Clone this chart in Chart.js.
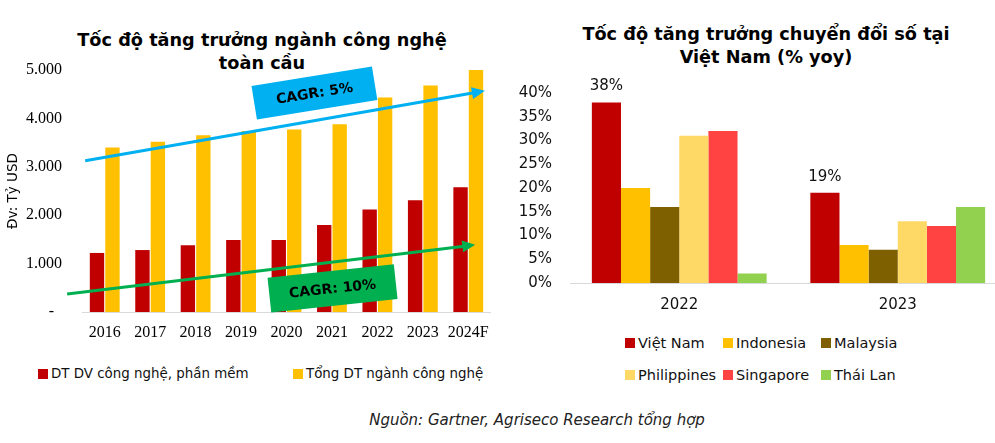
<!DOCTYPE html>
<html lang="vi">
<head>
<meta charset="utf-8">
<title>Tốc độ tăng trưởng ngành công nghệ</title>
<script src="https://cdn.jsdelivr.net/npm/chart.js@4.4.1/dist/chart.umd.min.js"></script>
<style>
    html, body { margin: 0; padding: 0; background: #fff; }
    body {
        position: relative; width: 995px; height: 443px; overflow: hidden;
        font-family: "DejaVu Sans", sans-serif; color: #000;
    }
    .chart-box { position: absolute; top: 0; }
    .title {
        position: absolute; font-weight: bold; font-size: 17.7px; line-height: 23px;
        text-align: center; white-space: nowrap; transform: translateX(-50%);
    }
    .legend-item {
        position: absolute; display: flex; align-items: center; white-space: nowrap; color: #111;
    }
    .legend-item span.swatch { display: inline-block; width: 10px; height: 10px; margin-right: 3px; }
    .source {
        position: absolute; left: 537px; top: 411px; transform: translateX(-50%);
        font-style: italic; font-size: 15px; color: #222; white-space: nowrap;
    }
</style>
</head>
<body>

<!-- Left: global tech industry -->
<div class="title" style="left:262px; top:29px;">Tốc độ tăng trưởng ngành công nghệ<br>toàn cầu</div>
<div class="chart-box" style="left:0; width:500px; height:345px;">
    <canvas id="global-chart"></canvas>
</div>
<div id="global-legend"></div>

<!-- Right: digital transformation -->
<div class="title" style="left:766px; top:23px;">Tốc độ tăng trưởng chuyển đổi số tại<br>Việt Nam (% yoy)</div>
<div class="chart-box" style="left:500px; width:520px; height:320px;">
    <canvas id="digital-chart"></canvas>
</div>
<div id="digital-legend"></div>

<div class="source">Nguồn: Gartner, Agriseco Research tổng hợp</div>

<script>
// ---- Left chart data (tỷ USD) ----
const years = ['2016', '2017', '2018', '2019', '2020', '2021', '2022', '2023', '2024F'];
const techServiceRevenue = [1220, 1280, 1380, 1490, 1490, 1800, 2120, 2310, 2580];
const totalTechRevenue = [3400, 3520, 3650, 3740, 3770, 3880, 4430, 4680, 5000];
const revenueTickLabels = ['-  ', '1.000', '2.000', '3.000', '4.000', '5.000'];
const globalSeriesNames = ['DT DV công nghệ, phần mềm', 'Tổng DT ngành công nghệ'];

// CAGR arrows, in chart units: [category index, value]
const cagrArrows = [
    { text: 'CAGR: 5%', from: [-0.43, 3126], to: [8.365, 4569], box: [4.615, 4524] },
    { text: 'CAGR: 10%', from: [-0.827, 371], to: [8.154, 1388], box: [5.013, 487] }
];

// ---- Right chart data (% yoy) ----
const periods = ['2022', '2023'];
const countries = ['Việt Nam', 'Indonesia', 'Malaysia', 'Philippines', 'Singapore', 'Thái Lan'];
const growth2022 = [38, 20, 16, 31, 32, 2];
const growth2023 = [19, 8, 7, 13, 12, 16];
const labelledCountries = ['Việt Nam'];

const globalColors = ['#C00000', '#FFC000'];
const countryColors = ['#C00000', '#FFC000', '#7F6000', '#FFD966', '#FF4343', '#92D050'];
const arrowStyles = [
    { color: '#00B0F0', angle: -9.2, w: 122, h: 34 },
    { color: '#00B050', angle: -6.1, w: 127, h: 35 }
];

const axisLine = '#D9D9D9';

// Draws the two trend arrows with their rotated label boxes
const cagrPlugin = {
    id: 'cagr',
    afterDatasetsDraw(chart) {
        const { ctx, scales: { x, y } } = chart;
        cagrArrows.forEach((a, i) => {
            const st = arrowStyles[i];
            const x1 = x.getPixelForValue(a.from[0]), y1 = y.getPixelForValue(a.from[1]);
            const x2 = x.getPixelForValue(a.to[0]), y2 = y.getPixelForValue(a.to[1]);
            const ang = Math.atan2(y2 - y1, x2 - x1);
            const head = 13, half = 6;

            ctx.save();
            ctx.strokeStyle = st.color;
            ctx.fillStyle = st.color;
            ctx.lineWidth = 3;
            ctx.beginPath();
            ctx.moveTo(x1, y1);
            ctx.lineTo(x2 - Math.cos(ang) * (head - 2), y2 - Math.sin(ang) * (head - 2));
            ctx.stroke();

            ctx.translate(x2, y2);
            ctx.rotate(ang);
            ctx.beginPath();
            ctx.moveTo(0, 0);
            ctx.lineTo(-head, -half);
            ctx.lineTo(-head, half);
            ctx.closePath();
            ctx.fill();
            ctx.restore();

            // label box
            const bx = x.getPixelForValue(a.box[0]), by = y.getPixelForValue(a.box[1]);
            ctx.save();
            ctx.translate(bx, by);
            ctx.rotate(st.angle * Math.PI / 180);
            ctx.fillStyle = st.color;
            ctx.fillRect(-st.w / 2, -st.h / 2, st.w, st.h);
            ctx.fillStyle = '#000';
            ctx.font = 'bold 14px "DejaVu Sans"';
            ctx.textAlign = 'center';
            ctx.textBaseline = 'middle';
            ctx.fillText(a.text, 0, 1);
            ctx.restore();
        });
    }
};

// Value labels above the Việt Nam bars
const valueLabelPlugin = {
    id: 'valueLabels',
    afterDatasetsDraw(chart) {
        const { ctx } = chart;
        chart.data.datasets.forEach((ds, i) => {
            if (!labelledCountries.includes(ds.label)) return;
            chart.getDatasetMeta(i).data.forEach((bar, j) => {
                ctx.save();
                ctx.font = '15px "DejaVu Sans"';
                ctx.fillStyle = '#111';
                ctx.textAlign = 'center';
                ctx.textBaseline = 'middle';
                ctx.fillText(ds.data[j] + '%', bar.x, bar.y - 16);
                ctx.restore();
            });
        });
    }
};

function buildLegend(containerId, items, positions, fontSize) {
    const el = document.getElementById(containerId);
    el.innerHTML = items.map((it, i) => `
        <div class="legend-item" style="left:${positions[i][0]}px; top:${positions[i][1]}px; font-size:${fontSize}px;">
            <span class="swatch" style="background:${it.color}"></span>${it.label}
        </div>`).join('');
}

Chart.defaults.animation = false;
Chart.defaults.plugins.legend.display = false;
Chart.defaults.plugins.tooltip.enabled = false;

// ---- Left chart ----
const globalChart = new Chart(document.getElementById('global-chart'), {
    type: 'bar',
    data: {
        labels: years,
        datasets: [
            { label: globalSeriesNames[0], data: techServiceRevenue, backgroundColor: globalColors[0] },
            { label: globalSeriesNames[1], data: totalTechRevenue, backgroundColor: globalColors[1] }
        ]
    },
    options: {
        responsive: true,
        maintainAspectRatio: false,
        layout: { padding: { top: 70, right: 5, left: 0, bottom: 0 } },
        datasets: { bar: { categoryPercentage: 0.68, barPercentage: 0.93 } },
        scales: {
            x: {
                grid: { display: false, drawTicks: false },
                border: { color: axisLine, width: 1 },
                ticks: {
                    font: { family: '"Liberation Serif"', size: 16 },
                    color: '#000',
                    padding: 11,
                    maxRotation: 0,
                    minRotation: 0,
                    autoSkip: false
                },
                afterFit: s => { s.height = 33; }
            },
            y: {
                min: 0,
                max: 5000,
                grid: { display: false, drawTicks: false },
                border: { display: false },
                ticks: {
                    stepSize: 1000,
                    padding: 20,
                    color: '#000',
                    font: { family: '"Liberation Serif"', size: 16 },
                    callback: (v, i) => revenueTickLabels[i]
                },
                title: {
                    display: true,
                    text: 'Đv: Tỷ USD',
                    color: '#000',
                    font: { family: '"DejaVu Sans"', size: 13.5 },
                    padding: { top: 5, bottom: 0 }
                },
                afterFit: s => { s.width = 82; }
            }
        }
    },
    plugins: [cagrPlugin]
});

// ---- Right chart ----
const digitalChart = new Chart(document.getElementById('digital-chart'), {
    type: 'bar',
    data: {
        labels: periods,
        datasets: countries.map((c, i) => ({
            label: c,
            data: [growth2022[i], growth2023[i]],
            backgroundColor: countryColors[i]
        }))
    },
    options: {
        responsive: true,
        maintainAspectRatio: false,
        layout: { padding: { top: 93, right: 13, left: 0, bottom: 0 } },
        datasets: { bar: { categoryPercentage: 0.8, barPercentage: 1.0 } },
        scales: {
            x: {
                grid: { display: false, drawTicks: false },
                border: { color: axisLine, width: 1 },
                ticks: { font: { family: '"DejaVu Sans"', size: 15 }, color: '#111', padding: 13, maxRotation: 0 },
                afterFit: s => { s.height = 37; }
            },
            y: {
                min: 0,
                max: 40,
                grid: { display: false, drawTicks: false },
                border: { display: false },
                ticks: {
                    stepSize: 5,
                    padding: 18,
                    color: '#111',
                    font: { family: '"DejaVu Sans"', size: 15 },
                    callback: v => v + '%'
                },
                afterFit: s => { s.width = 70; }
            }
        }
    },
    plugins: [valueLabelPlugin]
});

// HTML legends built from the chart datasets
buildLegend('global-legend',
    globalChart.data.datasets.map(d => ({ label: d.label, color: d.backgroundColor })),
    [[38, 366], [293, 366]], 13.4);

buildLegend('digital-legend',
    digitalChart.data.datasets.map(d => ({ label: d.label, color: d.backgroundColor })),
    [[625, 335], [723, 335], [821, 335], [625, 367], [723, 367], [821, 367]], 14.5);
</script>
</body>
</html>
